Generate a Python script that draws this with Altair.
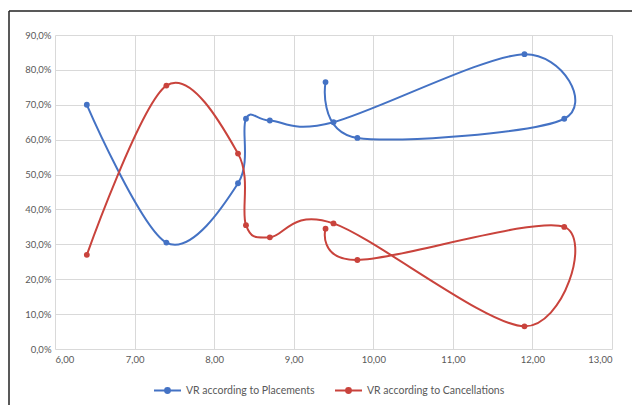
import altair as alt
import pandas as pd

x_vals = [6.4, 7.4, 8.3, 8.4, 8.7, 9.5, 11.9, 12.4, 9.8, 9.4]
placements = [70.0, 30.5, 47.5, 66.0, 65.5, 65.0, 84.5, 66.0, 60.5, 76.5]
cancellations = [27.0, 75.5, 56.0, 35.5, 32.0, 36.0, 6.5, 35.0, 25.5, 34.5]
series_names = ["VR according to Placements", "VR according to Cancellations"]
colors = ["#4472C4", "#C9433C"]
x_ticks = [6, 7, 8, 9, 10, 11, 12, 13]
y_ticks = [0, 10, 20, 30, 40, 50, 60, 70, 80, 90]

rows = []
for name, vals in zip(series_names, [placements, cancellations]):
    for i, (xv, yv) in enumerate(zip(x_vals, vals)):
        rows.append({"series": name, "x": xv, "y": yv, "order": i})
df = pd.DataFrame(rows)

font = "Lato"
label_color = "#595959"

color_scale = alt.Scale(domain=series_names, range=colors)

sym_path = ("M-1,0L1,0"
            "M-0.18,0a0.18,0.18 0 1,0 0.36,0a0.18,0.18 0 1,0 -0.36,0"
            "M-0.07,0a0.07,0.07 0 1,0 0.14,0a0.07,0.07 0 1,0 -0.14,0")

x_axis = alt.Axis(values=x_ticks, title=None, tickCount=8,
                  labelExpr="replace(format(datum.value, '.2f'), '.', ',')",
                  grid=True, gridColor="#D9D9D9", domain=False, ticks=False,
                  labelColor=label_color, labelFont=font, labelFontSize=9.5,
                  labelPadding=5, labelOverlap=False)
y_axis = alt.Axis(values=y_ticks, title=None, tickCount=10,
                  labelExpr="replace(format(datum.value, '.1f'), '.', ',') + '%'",
                  grid=True, gridColor="#D9D9D9", domain=False, ticks=False,
                  labelColor=label_color, labelFont=font, labelFontSize=9.5,
                  labelPadding=4, labelOverlap=False)
x_scale = alt.Scale(domain=[6, 13], nice=False, zero=False)
y_scale = alt.Scale(domain=[0, 90], nice=False)

lines = alt.Chart(df).mark_line(interpolate="cardinal", tension=0, strokeWidth=2).encode(
    x=alt.X("x:Q", scale=x_scale, axis=x_axis),
    y=alt.Y("y:Q", scale=y_scale, axis=y_axis),
    color=alt.Color("series:N", scale=color_scale, sort=series_names,
                    legend=alt.Legend(title=None, orient="none", direction="horizontal",
                                      legendX=98, legendY=341,
                                      symbolType=sym_path, symbolSize=729,
                                      symbolStrokeWidth=2, columnPadding=16,
                                      labelFont=font, labelFontSize=10.5,
                                      labelColor=label_color)),
    order="order:Q",
    detail="series:N",
)

points = alt.Chart(df).mark_point(filled=True, size=34, opacity=1).encode(
    x=alt.X("x:Q", scale=x_scale, axis=x_axis),
    y=alt.Y("y:Q", scale=y_scale, axis=y_axis),
    color=alt.Color("series:N", scale=color_scale, legend=None),
)

frame = pd.DataFrame({"k": [0]})
left_rule = alt.Chart(frame).mark_rule(color="#222222", strokeWidth=1.5).encode(
    x=alt.value(-46), y=alt.value(-24), y2=alt.value(372))
top_rule = alt.Chart(frame).mark_rule(color="#222222", strokeWidth=1.5).encode(
    x=alt.value(-46), x2=alt.value(580), y=alt.value(-24))

chart = alt.layer(lines, points, left_rule, top_rule).properties(
    width=557, height=314,
    padding={"left": 55, "top": 35, "right": 20, "bottom": 56},
    autosize=alt.AutoSizeParams(type="none"),
    background="white",
).configure_view(stroke=None)

chart.save("out.html", embed_options={"renderer": "svg", "actions": False})
